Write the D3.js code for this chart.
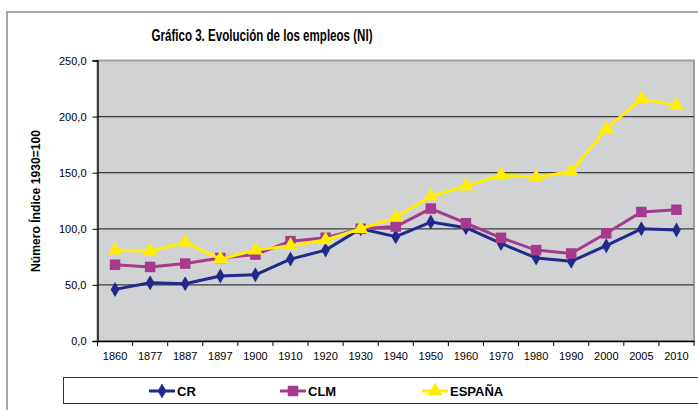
<!DOCTYPE html>
<html lang="es">
<head>
<meta charset="utf-8">
<title>Gráfico 3</title>
<script src="https://cdn.jsdelivr.net/npm/d3@7"></script>
<style>
  body { margin: 0; background: #fff; }
  text { font-family: "Liberation Sans Narrow", "Arial Narrow", "Liberation Sans", Arial, sans-serif; }
</style>
</head>
<body>
<script>
// data
var years = ["1860","1877","1887","1897","1900","1910","1920","1930","1940","1950","1960","1970","1980","1990","2000","2005","2010"];
var cr     = [46, 52, 51, 58, 59, 73, 81, 100, 93, 106, 101, 87, 74, 71, 85, 100, 99];
var clm    = [68, 66, 69, 74, 77, 89, 92, 100, 102, 118, 105, 92, 81, 78, 96, 115, 117];
var espana = [81, 80, 88, 73, 81, 85, 90, 100, 110, 129, 138, 148, 146, 151, 189, 216, 210];
var yTicks = [0, 50, 100, 150, 200, 250];

var series = [
  {name: "CR", values: cr, color: "#1f2a8c", symbol: d3.symbolDiamond, size: 65},
  {name: "CLM", values: clm, color: "#a63b8e", symbol: d3.symbolSquare, size: 110},
  {name: "ESPAÑA", values: espana, color: "#ffee00", symbol: d3.symbolTriangle, size: 95}
];

var w = 698, h = 410;
var plotLeft = 97.5, plotRight = 694, plotTop = 60.5, plotBottom = 341;

var svg = d3.select("body").append("svg")
  .attr("width", w)
  .attr("height", h);

// outer frame
svg.append("rect")
  .attr("x", 7).attr("y", 12)
  .attr("width", 720).attr("height", 420)
  .attr("fill", "none")
  .attr("stroke", "#a8a8a8")
  .attr("stroke-width", 2);

var x = d3.scaleBand().domain(years).range([plotLeft, plotRight]);
var y = d3.scaleLinear().domain([0, 250]).range([plotBottom, plotTop]);

// plot area
svg.append("rect")
  .attr("x", plotLeft).attr("y", plotTop)
  .attr("width", plotRight - plotLeft).attr("height", plotBottom - plotTop)
  .attr("fill", "#d1d2d4")
  .attr("stroke", "#a0a0a0")
  .attr("stroke-width", 2);

// gridlines
svg.selectAll(".grid")
  .data(yTicks.filter(function(d) { return d > 0 && d < 250; }))
  .enter().append("line")
  .attr("x1", plotLeft).attr("x2", plotRight)
  .attr("y1", function(d) { return y(d); })
  .attr("y2", function(d) { return y(d); })
  .attr("stroke", "#3a3a3a")
  .attr("stroke-width", 1.3);

// y axis
var yAxis = svg.append("g")
  .attr("transform", "translate(" + plotLeft + ",0)")
  .call(d3.axisLeft(y).tickValues(yTicks).tickSize(5).tickPadding(6)
    .tickFormat(function(d) { return d3.format(".1f")(d).replace(".", ","); }));
yAxis.select(".domain").attr("stroke", "#000").attr("stroke-width", 1.3);
yAxis.selectAll(".tick line").attr("stroke", "#000");
yAxis.selectAll("text")
  .attr("font-family", "'Liberation Sans', Arial, sans-serif")
  .attr("font-size", "11px").attr("fill", "#000");

// x axis, ticks between categories
var xAxis = svg.append("g")
  .attr("transform", "translate(0," + plotBottom + ")")
  .call(d3.axisBottom(x).tickSize(0).tickPadding(11));
xAxis.select(".domain").attr("stroke", "#000").attr("stroke-width", 1.3);
xAxis.selectAll("text")
  .attr("font-family", "'Liberation Sans', Arial, sans-serif")
  .attr("font-size", "11px").attr("fill", "#000");
xAxis.selectAll(".sep")
  .data(d3.range(years.length + 1))
  .enter().append("line")
  .attr("x1", function(i) { return plotLeft + i * x.step(); })
  .attr("x2", function(i) { return plotLeft + i * x.step(); })
  .attr("y1", 0).attr("y2", 5)
  .attr("stroke", "#000");

// lines and markers
var line = d3.line()
  .x(function(d, i) { return x(years[i]) + x.bandwidth() / 2; })
  .y(function(d) { return y(d); });

series.forEach(function(s) {
  svg.append("path")
    .datum(s.values)
    .attr("d", line)
    .attr("fill", "none")
    .attr("stroke", s.color)
    .attr("stroke-width", 3)
    .attr("stroke-linejoin", "round");
  svg.selectAll(".m-" + s.name)
    .data(s.values)
    .enter().append("path")
    .attr("d", d3.symbol().type(s.symbol).size(s.size))
    .attr("transform", function(d, i) {
      return "translate(" + (x(years[i]) + x.bandwidth() / 2) + "," + y(d) + ")";
    })
    .attr("fill", s.color);
});

// title
svg.append("text")
  .attr("x", 262).attr("y", 41)
  .attr("text-anchor", "middle")
  .attr("font-size", "17px")
  .attr("font-weight", "bold")
  .attr("textLength", 221)
  .attr("lengthAdjust", "spacingAndGlyphs")
  .text("Gráfico 3. Evolución de los empleos (NI)");

// y axis title
svg.append("text")
  .attr("transform", "translate(40,201) rotate(-90)")
  .attr("text-anchor", "middle")
  .attr("font-size", "13px")
  .attr("font-weight", "bold")
  .attr("textLength", 142)
  .attr("lengthAdjust", "spacingAndGlyphs")
  .text("Número Índice 1930=100");

// legend
svg.append("rect")
  .attr("x", 63.5).attr("y", 377.5)
  .attr("width", 700).attr("height", 26)
  .attr("fill", "#fff")
  .attr("stroke", "#333")
  .attr("stroke-width", 1);

var legendX = [149, 280, 422];
series.forEach(function(s, i) {
  var g = svg.append("g").attr("transform", "translate(" + legendX[i] + ",391)");
  g.append("line")
    .attr("x1", 0).attr("x2", 26)
    .attr("stroke", s.color).attr("stroke-width", 3);
  g.append("path")
    .attr("d", d3.symbol().type(s.symbol).size(s.size))
    .attr("transform", "translate(13,0)")
    .attr("fill", s.color);
  g.append("text")
    .attr("x", 28).attr("y", 4.5)
    .attr("font-size", "13px")
    .attr("font-weight", "bold")
    .text(s.name);
});
</script>
</body>
</html>
